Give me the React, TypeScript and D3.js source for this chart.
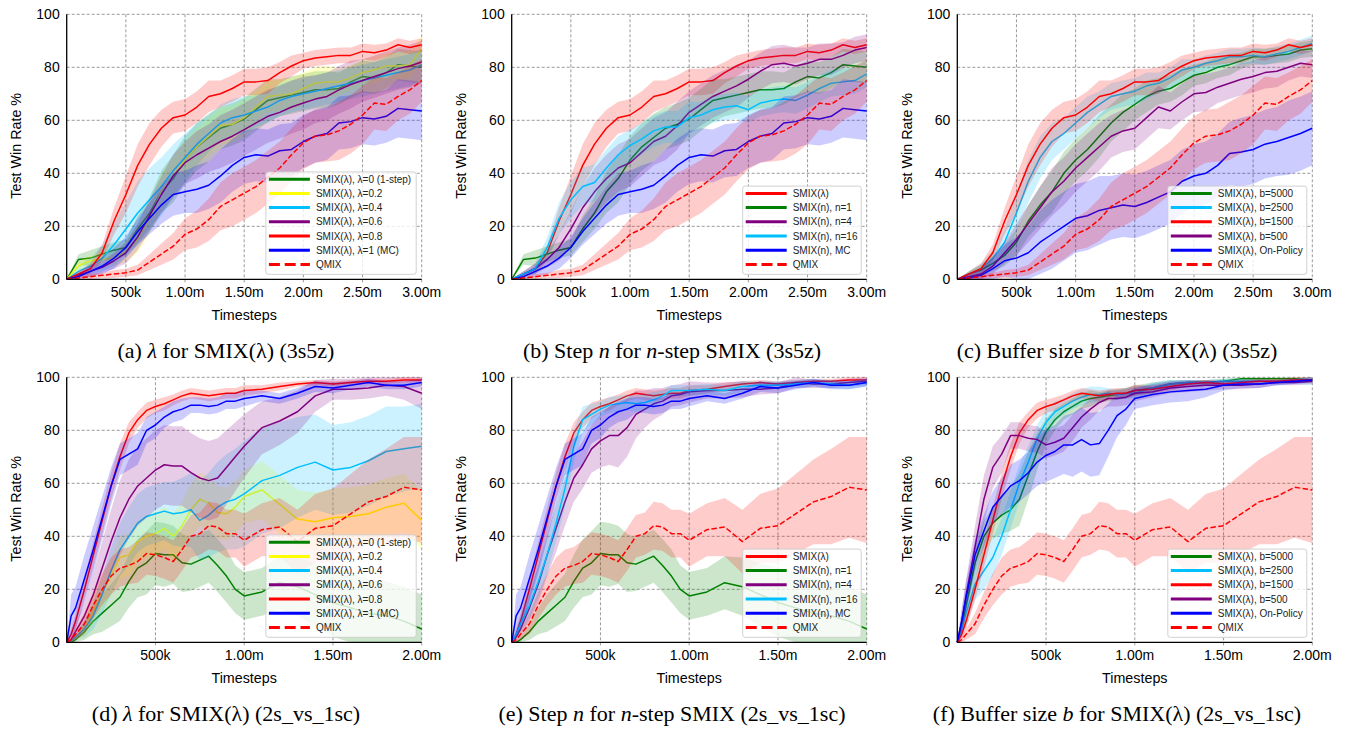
import React from "react";
import * as d3 from "d3";

// ---- time grids ----
const steps3s5z = [
  0, 1e5, 2e5, 3e5, 4e5, 5e5, 6e5, 7e5, 8e5, 9e5, 1e6, 1.1e6, 1.2e6, 1.3e6, 1.4e6, 1.5e6,
  1.6e6, 1.7e6, 1.8e6, 1.9e6, 2e6, 2.1e6, 2.2e6, 2.3e6, 2.4e6, 2.5e6, 2.6e6, 2.7e6, 2.8e6, 2.9e6, 3e6,
];
const steps2s = [
  0, 2.5e4, 5e4, 1e5, 1.5e5, 2e5, 2.5e5, 3e5, 3.5e5, 4e5, 4.5e5, 5e5, 5.5e5, 6e5, 6.5e5, 7e5,
  7.5e5, 8e5, 8.5e5, 9e5, 9.5e5, 1e6, 1.1e6, 1.2e6, 1.3e6, 1.4e6, 1.5e6, 1.6e6, 1.7e6, 1.8e6, 1.9e6, 2e6,
];

const xTicks3s5z = [5e5, 1e6, 1.5e6, 2e6, 2.5e6, 3e6];
const xTickLabels3s5z = ["500k", "1.00m", "1.50m", "2.00m", "2.50m", "3.00m"];
const xTicks2s = [5e5, 1e6, 1.5e6, 2e6];
const xTickLabels2s = ["500k", "1.00m", "1.50m", "2.00m"];
const yTicks = [0, 20, 40, 60, 80, 100];

// ---- 3s5z ----
const red08A = [0, 2, 4, 10, 22, 32, 43, 51, 57, 61, 62, 65, 69, 70, 72, 74.5, 74.5, 75, 78, 80.5, 82.5, 83.5, 84, 84.5, 84.5, 86, 85.5, 86.5, 88.5, 87.5, 88.5];
const red08ASd = [0, 1, 2, 3, 5, 7, 8, 8, 7, 6, 6, 6, 6, 5, 5, 5, 5, 5, 4, 4, 3, 3, 3, 3, 3, 3, 3, 2.5, 2.5, 2.5, 2.5];
const green0A = [0, 7.5, 8, 9.5, 11, 12, 19, 25, 33, 38, 45, 50, 53.5, 57, 58.5, 60.5, 64, 67.5, 68.5, 69.5, 70.5, 71.5, 71.5, 72, 74.5, 76.5, 76, 78, 81, 80.5, 80];
const green0ASd = [0, 2, 3, 3, 3, 3, 5, 6, 8, 9, 9, 9, 9, 8, 8, 8, 8, 8, 7, 7, 7, 7, 7, 6, 6, 6, 6, 6, 6, 6, 6];
const yellow02A = [0, 5, 7, 7.5, 8, 10.5, 15, 23, 33, 39, 45, 50, 54, 58, 58.5, 61, 65, 69, 69.5, 70, 72, 74, 74.5, 74.5, 76, 78, 79, 80.5, 80.5, 81, 87];
const yellow02ASd = [0, 2, 2, 3, 3, 4, 5, 6, 7, 7, 7, 7, 7, 7, 7, 7, 6, 6, 6, 6, 6, 6, 6, 5, 5, 5, 5, 5, 5, 5, 5];
const cyan04A = [0, 3, 5, 8, 13, 19, 25, 30, 35, 41, 46, 51, 55, 59, 61, 62, 63.5, 65, 67.5, 69, 70, 71, 72, 73, 74, 75, 76, 77, 78, 79, 81];
const cyan04ASd = [0, 2, 3, 5, 8, 10, 12, 12, 11, 10, 9, 8, 7, 7, 7, 7, 6, 6, 6, 6, 6, 6, 6, 6, 6, 6, 6, 6, 6, 6, 6];
const purple06A = [0, 1.5, 3, 4.5, 7, 10, 16, 24, 32, 39, 44, 47, 49.5, 52, 54, 56.5, 59, 61.5, 63, 65, 66.5, 68, 69, 71.5, 73.5, 75, 76.5, 78, 79.5, 80.5, 82];
const purple06ASd = [0, 1, 2, 2, 3, 4, 5, 6, 7, 8, 8, 9, 9, 10, 10, 10, 10, 10, 10, 10, 10, 9, 9, 9, 9, 8, 8, 8, 8, 8, 8];
const blueMcA = [0, 1, 3, 5, 8, 12, 18, 23, 28, 32, 33, 34, 35.5, 39, 43, 46, 47, 46.5, 48.5, 49, 52, 54, 55, 59, 59.5, 61, 60.5, 61.5, 64.5, 64, 63.5];
const blueMcASd = [0, 1, 2, 3, 4, 4, 5, 6, 7, 8, 8, 9, 9, 10, 10, 10, 10, 10, 10, 10, 10, 10, 10, 10, 10, 10, 10, 10, 11, 11, 11];
const qmixA = [0, 0.5, 1, 1.5, 2, 2.5, 3.5, 6.5, 9.5, 12.5, 17, 19, 22.5, 27.5, 30, 32.5, 35, 38.5, 42, 47, 51.5, 54, 54.5, 56, 58.5, 62, 66.5, 66, 69, 71.5, 75];
const qmixASd = [0, 0.5, 1, 1, 1.5, 1.5, 2, 3, 4, 5, 6, 7, 8, 9, 10, 10, 10, 10, 10, 10, 10, 10, 10, 11, 11, 11, 10, 10, 9, 9, 8];
const purpleN4A = [0, 2, 4, 7.5, 12, 19, 27, 33, 38, 42, 44, 48, 52, 54, 58, 63, 66, 69, 71, 73, 75.5, 78.5, 81, 81.5, 80.5, 81.5, 83, 83, 84.5, 86.5, 87.5];
const purpleN4ASd = [0, 1, 2, 3, 5, 7, 8, 9, 9, 9, 9, 9, 9, 9, 9, 8, 8, 8, 8, 8, 7, 7, 7, 7, 7, 6, 6, 6, 5, 5, 5];
const cyanN16A = [0, 2, 4, 12, 23, 30, 35, 36.5, 42, 47, 50.5, 53, 56, 57.5, 57.5, 61, 62, 64, 65, 65.5, 64, 66.5, 67.5, 68, 67.5, 69.5, 72, 74, 74.5, 75, 77.5];
const cyanN16ASd = [0, 1, 2, 4, 6, 7, 7, 7, 7, 7, 6, 6, 6, 6, 6, 6, 5, 5, 5, 5, 5, 5, 5, 5, 5, 5, 5, 5, 5, 5, 5];
const greenB5000A = [0, 2, 3.5, 6, 9, 14, 22, 28, 33, 40, 45, 49, 54, 59, 63, 66, 69, 71, 72, 74.5, 77, 78, 80, 81, 82.5, 84, 84, 84.5, 85, 86.5, 87];
const greenB5000ASd = [0, 1, 2, 3, 4, 5, 6, 7, 8, 8, 8, 8, 8, 7, 7, 6, 6, 5, 5, 5, 4, 4, 4, 4, 3, 3, 3, 3, 3, 3, 3];
const cyanB2500A = [0, 2, 4, 8, 14, 25, 37, 46, 52, 55, 59, 63, 66, 69, 70, 71, 73, 74, 76, 79, 80, 81.5, 82.5, 84, 84, 84.5, 84, 85, 86, 87.5, 89];
const cyanB2500ASd = [0, 1, 2, 3, 5, 7, 8, 8, 7, 6, 6, 6, 5, 5, 5, 5, 5, 4, 4, 4, 3, 3, 3, 3, 3, 3, 3, 3, 3, 3, 3];
const purpleB500A = [0, 1, 2, 5, 10, 15, 21, 27, 33, 37, 42, 46, 50, 54, 56, 57, 61, 65, 63.5, 67, 70, 70.5, 72.5, 74, 75.5, 76.5, 78, 78.5, 80, 81.5, 81];
const purpleB500ASd = [0, 1, 2, 3, 4, 6, 7, 8, 9, 9, 9, 9, 9, 8, 8, 8, 8, 8, 7, 7, 7, 7, 6, 6, 6, 6, 6, 6, 5, 5, 5];
const blueOnA = [0, 0.5, 1.5, 4, 7, 8, 10, 14, 17, 20, 23, 24, 26, 27, 28, 27.5, 29, 31, 33, 37, 39, 40, 43, 47.5, 48, 49, 51, 52, 53.5, 55, 57];
const blueOnASd = [0, 1, 2, 4, 6, 8, 10, 12, 13, 13, 13, 13, 13, 12, 12, 12, 12, 12, 12, 12, 12, 12, 12, 12, 13, 13, 13, 13, 14, 14, 14];

// ---- 2s_vs_1sc ----
const red08B = [0, 3, 8, 20, 33, 46, 59, 70, 79, 84, 87.5, 89, 90, 91.5, 93, 94, 93.5, 93, 93.5, 94, 94, 95, 95.5, 96.5, 97.5, 98, 97.5, 98, 98.5, 98.5, 99, 99];
const red08BSd = [0, 2, 3, 4, 5, 5, 5, 5, 4, 3, 3, 2.5, 2.5, 2, 2, 2, 2, 2, 2, 2, 2, 2, 1.5, 1.5, 1, 1, 1, 1, 1, 1, 1, 1];
const blueMcB = [0, 10, 13, 24, 35, 47, 59, 69, 71, 73, 80, 82, 85, 87, 88, 89.5, 89.5, 89, 89.5, 91, 91, 92, 93, 92, 94, 96.5, 96, 97, 98, 97, 97, 98];
const blueMcBSd = [0, 8, 8, 9, 9, 8, 7, 6, 6, 6, 5, 5, 4, 4, 4, 3, 3, 3, 3, 3, 3, 3, 2, 2, 2, 2, 2, 1.5, 1.5, 1.5, 1.5, 1.5];
const purple06B = [0, 1, 4, 10, 18, 28, 38, 47, 54, 59, 62, 65, 67, 66.5, 66.5, 64, 62, 61, 62, 66, 70, 74, 81, 83.5, 87, 93, 95.5, 95.5, 96, 97, 96.5, 94];
const purple06BSd = [0, 1, 3, 5, 8, 10, 12, 14, 15, 15, 15, 15, 15, 15, 15, 15, 15, 15, 15, 14, 13, 12, 10, 9, 8, 6, 4, 4, 4, 4, 5, 6];
const cyan04B = [0, 0.5, 2, 5, 10, 18, 27, 35, 40, 45, 47.5, 48.5, 49.5, 48.5, 49, 50, 46, 48, 51, 53, 54, 56, 61, 63, 66, 68, 65, 66, 68.5, 72, 73, 74];
const cyan04BSd = [0, 0.5, 1, 3, 5, 7, 9, 10, 11, 11, 11, 11, 11, 12, 13, 14, 15, 16, 17, 18, 19, 20, 20, 20, 19, 18, 17, 17, 17, 17, 16, 16];
const yellow02B = [0, 0.5, 2, 5, 12, 19, 25, 32, 33, 38, 40, 41, 43, 40, 44, 50, 54, 52.5, 49, 48.5, 51, 55, 57.5, 52, 46.5, 45.5, 47, 47.5, 48.5, 51, 52.5, 46];
const yellow02BSd = [0, 0.5, 1, 3, 5, 6, 7, 8, 8, 8, 8, 8, 8, 9, 9, 10, 10, 10, 10, 10, 10, 10, 11, 11, 11, 11, 11, 11, 11, 11, 11, 11];
const green0B = [0, 0, 1, 4, 8, 11, 14, 17, 23, 28, 30, 33.5, 33, 33, 30, 29.5, 31, 32.5, 29, 25, 20, 17.5, 19, 22.5, 21, 18, 15, 13, 11, 10, 8, 5];
const green0BSd = [0, 0, 1, 3, 5, 7, 8, 9, 10, 11, 12, 12, 12, 11, 11, 10, 10, 10, 10, 10, 9, 9, 9, 10, 11, 12, 13, 13, 13, 13, 13, 13];
const qmixB = [0, 1, 3, 7, 14, 20, 25, 28, 29, 30.5, 33.5, 33, 32, 30.5, 35, 40, 41, 44, 43.5, 41, 41, 38.5, 42.5, 43.5, 38, 43, 44, 48.5, 53, 55, 58.5, 57.5];
const qmixBSd = [0, 1, 2, 4, 5, 6, 7, 7, 7, 8, 8, 8, 8, 8, 8, 8, 8, 9, 9, 9, 9, 10, 10, 11, 12, 13, 14, 15, 16, 18, 19, 20];
const purpleN4B = [0, 2, 5, 13, 22, 33, 43, 53, 62, 67, 73, 76, 78, 78, 81, 86, 88, 90, 91, 93, 93.5, 94.5, 95, 95, 95.5, 95.5, 96, 98, 97.5, 97.5, 98, 98.5];
const purpleN4BSd = [0, 2, 3, 5, 7, 8, 9, 9, 9, 9, 9, 10, 11, 12, 11, 9, 7, 6, 5, 4, 4, 4, 3, 3, 3, 2, 2, 2, 1.5, 1.5, 1.5, 1.5];
const cyanN16B = [0, 3, 7, 14, 23, 33, 45, 58, 74, 84, 86, 88, 89.5, 90, 90.5, 90, 90.5, 91.5, 93, 95, 95, 95, 95.5, 95, 96.5, 97, 97, 97.5, 98, 97.5, 97, 98];
const cyanN16BSd = [0, 2, 3, 5, 6, 7, 7, 7, 6, 5, 4, 3, 3, 3, 3, 3, 3, 3, 2, 2, 2, 2, 2, 2, 2, 1.5, 1.5, 1.5, 1.5, 1.5, 1.5, 1.5];
const greenB5000B = [0, 6, 14, 30, 40, 45, 48, 50, 54, 63, 72, 79.5, 84, 87, 89, 91, 92, 92.5, 93, 93.5, 94, 95, 96, 97.5, 98, 98, 98.5, 99.5, 99.5, 99.5, 99.5, 99];
const greenB5000BSd = [0, 3, 5, 6, 6, 6, 7, 8, 10, 9, 7, 5, 4, 3, 3, 3, 3, 2, 2, 2, 2, 2, 2, 1.5, 1, 1, 1, 1, 1, 1, 1, 1];
const cyanB2500B = [0, 5, 11, 22, 27, 32, 40, 50, 60, 68, 77, 83, 87, 89, 91, 92.5, 93.5, 93.5, 94, 93.5, 94, 94, 96, 97.5, 98, 98, 98.5, 98.5, 98.5, 98, 98.5, 98.5];
const cyanB2500BSd = [0, 3, 5, 6, 7, 7, 7, 7, 7, 6, 5, 5, 4, 3, 3, 3, 3, 3, 2, 2, 2, 2, 2, 1.5, 1, 1, 1, 1, 1, 1, 1, 1.5];
const purpleB500B = [0, 8, 18, 36, 54, 66, 71, 78, 78, 77, 76.5, 74.5, 75.5, 77, 81, 85, 88, 90.5, 92, 92, 92.5, 94, 94.5, 96, 96.5, 97, 97, 97, 97.5, 98, 98, 98.5];
const purpleB500BSd = [0, 4, 6, 8, 9, 8, 7, 5, 5, 5, 5, 5, 5, 5, 5, 4, 4, 3, 3, 3, 3, 3, 2, 2, 2, 2, 1.5, 1.5, 1.5, 1, 1, 1];
const blueOnB = [0, 8, 17, 33, 42, 51, 55, 59, 61, 64, 68, 70.5, 72, 74.5, 74.5, 76.5, 74.5, 75, 80, 85.5, 88, 92, 93.5, 94.5, 95, 95.5, 97, 97.5, 97.5, 98, 98.5, 99];
const blueOnBSd = [0, 5, 6, 6, 6, 6, 7, 8, 8, 8, 9, 10, 10, 11, 12, 12, 12, 12, 10, 8, 6, 4, 4, 4, 4, 3, 2, 1.5, 1.5, 1, 1, 1];

interface Series {
  label: string;
  color: string;
  mean: number[];
  spread: number[];
  dashed?: boolean;
}

const GREEN = "#008000";
const YELLOW = "#ffff00";
const CYAN = "#00bfff";
const PURPLE = "#800080";
const RED = "#ff0000";
const BLUE = "#0000ff";

const panelA: Series[] = [
  { label: "SMIX(λ), λ=0 (1-step)", color: GREEN, mean: green0A, spread: green0ASd },
  { label: "SMIX(λ), λ=0.2", color: YELLOW, mean: yellow02A, spread: yellow02ASd },
  { label: "SMIX(λ), λ=0.4", color: CYAN, mean: cyan04A, spread: cyan04ASd },
  { label: "SMIX(λ), λ=0.6", color: PURPLE, mean: purple06A, spread: purple06ASd },
  { label: "SMIX(λ), λ=0.8", color: RED, mean: red08A, spread: red08ASd },
  { label: "SMIX(λ), λ=1 (MC)", color: BLUE, mean: blueMcA, spread: blueMcASd },
  { label: "QMIX", color: RED, mean: qmixA, spread: qmixASd, dashed: true },
];
const panelB: Series[] = [
  { label: "SMIX(λ)", color: RED, mean: red08A, spread: red08ASd },
  { label: "SMIX(n), n=1", color: GREEN, mean: green0A, spread: green0ASd },
  { label: "SMIX(n), n=4", color: PURPLE, mean: purpleN4A, spread: purpleN4ASd },
  { label: "SMIX(n), n=16", color: CYAN, mean: cyanN16A, spread: cyanN16ASd },
  { label: "SMIX(n), MC", color: BLUE, mean: blueMcA, spread: blueMcASd },
  { label: "QMIX", color: RED, mean: qmixA, spread: qmixASd, dashed: true },
];
const panelC: Series[] = [
  { label: "SMIX(λ), b=5000", color: GREEN, mean: greenB5000A, spread: greenB5000ASd },
  { label: "SMIX(λ), b=2500", color: CYAN, mean: cyanB2500A, spread: cyanB2500ASd },
  { label: "SMIX(λ), b=1500", color: RED, mean: red08A, spread: red08ASd },
  { label: "SMIX(λ), b=500", color: PURPLE, mean: purpleB500A, spread: purpleB500ASd },
  { label: "SMIX(λ), On-Policy", color: BLUE, mean: blueOnA, spread: blueOnASd },
  { label: "QMIX", color: RED, mean: qmixA, spread: qmixASd, dashed: true },
];
const panelD: Series[] = [
  { label: "SMIX(λ), λ=0 (1-step)", color: GREEN, mean: green0B, spread: green0BSd },
  { label: "SMIX(λ), λ=0.2", color: YELLOW, mean: yellow02B, spread: yellow02BSd },
  { label: "SMIX(λ), λ=0.4", color: CYAN, mean: cyan04B, spread: cyan04BSd },
  { label: "SMIX(λ), λ=0.6", color: PURPLE, mean: purple06B, spread: purple06BSd },
  { label: "SMIX(λ), λ=0.8", color: RED, mean: red08B, spread: red08BSd },
  { label: "SMIX(λ), λ=1 (MC)", color: BLUE, mean: blueMcB, spread: blueMcBSd },
  { label: "QMIX", color: RED, mean: qmixB, spread: qmixBSd, dashed: true },
];
const panelE: Series[] = [
  { label: "SMIX(λ)", color: RED, mean: red08B, spread: red08BSd },
  { label: "SMIX(n), n=1", color: GREEN, mean: green0B, spread: green0BSd },
  { label: "SMIX(n), n=4", color: PURPLE, mean: purpleN4B, spread: purpleN4BSd },
  { label: "SMIX(n), n=16", color: CYAN, mean: cyanN16B, spread: cyanN16BSd },
  { label: "SMIX(n), MC", color: BLUE, mean: blueMcB, spread: blueMcBSd },
  { label: "QMIX", color: RED, mean: qmixB, spread: qmixBSd, dashed: true },
];
const panelF: Series[] = [
  { label: "SMIX(λ), b=5000", color: GREEN, mean: greenB5000B, spread: greenB5000BSd },
  { label: "SMIX(λ), b=2500", color: CYAN, mean: cyanB2500B, spread: cyanB2500BSd },
  { label: "SMIX(λ), b=1500", color: RED, mean: red08B, spread: red08BSd },
  { label: "SMIX(λ), b=500", color: PURPLE, mean: purpleB500B, spread: purpleB500BSd },
  { label: "SMIX(λ), On-Policy", color: BLUE, mean: blueOnB, spread: blueOnBSd },
  { label: "QMIX", color: RED, mean: qmixB, spread: qmixBSd, dashed: true },
];

// caption pieces: [text, italic]
type Piece = [string, boolean];
const captionA: Piece[] = [["(a) ", false], ["λ", true], [" for SMIX(λ) (3s5z)", false]];
const captionB: Piece[] = [["(b) Step ", false], ["n", true], [" for ", false], ["n", true], ["-step SMIX (3s5z)", false]];
const captionC: Piece[] = [["(c) Buffer size ", false], ["b", true], [" for SMIX(λ) (3s5z)", false]];
const captionD: Piece[] = [["(d) ", false], ["λ", true], [" for SMIX(λ) (2s_vs_1sc)", false]];
const captionE: Piece[] = [["(e) Step ", false], ["n", true], [" for ", false], ["n", true], ["-step SMIX (2s_vs_1sc)", false]];
const captionF: Piece[] = [["(f) Buffer size ", false], ["b", true], [" for SMIX(λ) (2s_vs_1sc)", false]];

const PLOT_W = 355;
const PLOT_H = 265;
const SANS = "'Liberation Sans', Arial, sans-serif";
const SERIF = "'Liberation Serif', 'Times New Roman', serif";

interface PanelProps {
  left: number;
  top: number;
  steps: number[];
  xMax: number;
  xTickValues: number[];
  xTickLabels: string[];
  series: Series[];
  legendWidth: number;
  caption: Piece[];
  captionX: number;
}

const Panel: React.FC<PanelProps> = ({
  left, top, steps, xMax, xTickValues, xTickLabels, series, legendWidth, caption, captionX,
}) => {
  const x = d3.scaleLinear().domain([0, xMax]).range([left, left + PLOT_W]);
  const y = d3.scaleLinear().domain([0, 100]).range([top + PLOT_H, top]);
  const bottom = top + PLOT_H;
  const right = left + PLOT_W;

  const gridStyle = { stroke: "#555", strokeOpacity: 0.75, strokeWidth: 0.8, strokeDasharray: "3 2" };

  const legendH = 14.2 * series.length + 3;
  const legX = right - 5.5 - legendWidth;
  const legY = bottom - 5 - legendH;

  return (
    <g>
      {/* grid */}
      {yTicks.filter((t) => t > 0).map((t) => (
        <line key={`gy${t}`} x1={left} x2={right} y1={y(t)} y2={y(t)} style={gridStyle} />
      ))}
      {xTickValues.map((t) => (
        <line key={`gx${t}`} x1={x(t)} x2={x(t)} y1={top} y2={bottom + 3} style={gridStyle} />
      ))}

      {/* bands and lines */}
      {series.map((s, si) => {
        const area = d3.area<number>()
          .x((_, i) => x(steps[i]))
          .y0((d, i) => y(Math.max(0, d - s.spread[i])))
          .y1((d, i) => y(Math.min(100, d + s.spread[i])));
        const line = d3.line<number>()
          .x((_, i) => x(steps[i]))
          .y((d) => y(d));
        return (
          <g key={`s${si}`}>
            <path d={area(s.mean) ?? ""} fill={s.color} fillOpacity={0.2} stroke="none" />
            <path
              d={line(s.mean) ?? ""}
              fill="none"
              stroke={s.color}
              strokeWidth={1.5}
              strokeDasharray={s.dashed ? "5.5 2.4" : undefined}
              strokeLinejoin="round"
            />
          </g>
        );
      })}

      {/* spines */}
      <line x1={left} x2={left} y1={top} y2={bottom} stroke="#000" strokeWidth={1.3} />
      <line x1={left} x2={right} y1={bottom} y2={bottom} stroke="#000" strokeWidth={1.3} />

      {/* tick labels */}
      {yTicks.map((t) => (
        <text key={`ty${t}`} x={left - 7} y={y(t)} dy="0.36em" textAnchor="end" fontFamily={SANS} fontSize={14}>
          {t}
        </text>
      ))}
      {xTickValues.map((t, i) => (
        <text key={`tx${t}`} x={x(t)} y={bottom + 18} textAnchor="middle" fontFamily={SANS} fontSize={14}>
          {xTickLabels[i]}
        </text>
      ))}

      {/* axis titles */}
      <text x={(left + right) / 2} y={bottom + 41} textAnchor="middle" fontFamily={SANS} fontSize={14.3}>
        Timesteps
      </text>
      <text
        transform={`translate(${left - 45.5},${(top + bottom) / 2 - 1}) rotate(-90)`}
        textAnchor="middle"
        fontFamily={SANS}
        fontSize={14.3}
      >
        Test Win Rate %
      </text>

      {/* legend */}
      <rect x={legX} y={legY} width={legendWidth} height={legendH} rx={2.5} fill="#fff" fillOpacity={0.8} stroke="#cccccc" strokeWidth={0.9} />
      {series.map((s, i) => {
        const cy = legY + 7.3 + 14.2 * i;
        return (
          <g key={`l${i}`}>
            <line
              x1={legX + 3}
              x2={legX + 44}
              y1={cy}
              y2={cy}
              stroke={s.color}
              strokeWidth={3}
              strokeDasharray={s.dashed ? "11 4.8" : undefined}
            />
            <text x={legX + 50} y={cy} dy="0.35em" fontFamily={SANS} fontSize={10} fill="#222">
              {s.label}
            </text>
          </g>
        );
      })}

      {/* caption */}
      <text x={captionX} y={bottom + 79} textAnchor="middle" fontFamily={SERIF} fontSize={22}>
        {caption.map(([txt, it], i) => (
          <tspan key={i} fontStyle={it ? "italic" : "normal"}>{txt}</tspan>
        ))}
      </text>
    </g>
  );
};

const panelLefts = [66.7, 511.7, 957.3];
const captionCenters = [226, 672, 1117];
const rowTops = [14.3, 377.3];
const legendWidths = [150.3, 118.5, 139];

export default function App() {
  const top = [panelA, panelB, panelC];
  const bot = [panelD, panelE, panelF];
  const topCaps = [captionA, captionB, captionC];
  const botCaps = [captionD, captionE, captionF];
  return (
    <svg
      width={1345}
      height={730}
      viewBox="0 0 1345 730"
      style={{ position: "absolute", left: 0, top: 0, background: "#fff" }}
    >
      <rect x={0} y={0} width={1345} height={730} fill="#fff" />
      {top.map((s, i) => (
        <Panel
          key={`t${i}`}
          left={panelLefts[i]}
          top={rowTops[0]}
          steps={steps3s5z}
          xMax={3e6}
          xTickValues={xTicks3s5z}
          xTickLabels={xTickLabels3s5z}
          series={s}
          legendWidth={legendWidths[i]}
          caption={topCaps[i]}
          captionX={captionCenters[i]}
        />
      ))}
      {bot.map((s, i) => (
        <Panel
          key={`b${i}`}
          left={panelLefts[i]}
          top={rowTops[1]}
          steps={steps2s}
          xMax={2e6}
          xTickValues={xTicks2s}
          xTickLabels={xTickLabels2s}
          series={s}
          legendWidth={legendWidths[i]}
          caption={botCaps[i]}
          captionX={captionCenters[i]}
        />
      ))}
    </svg>
  );
}
